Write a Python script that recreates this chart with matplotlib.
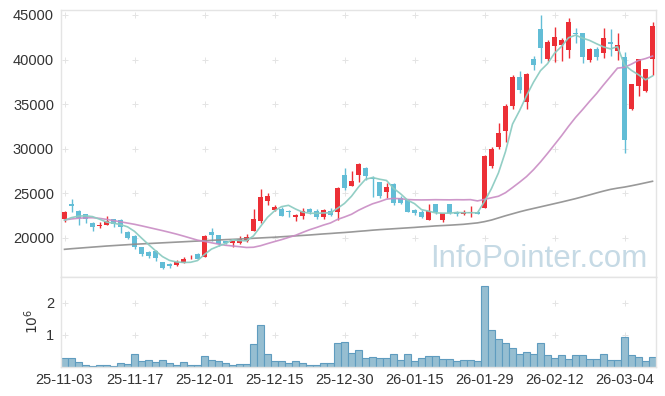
import matplotlib
matplotlib.use("Agg")
import matplotlib.pyplot as plt
import numpy as np
import pandas as pd

plt.rcParams['font.family'] = ['Liberation Sans', 'DejaVu Sans']

# x tick labels, one every 10 trading days
tick_labels = ["25-11-03", "25-11-17", "25-12-01", "25-12-15", "25-12-30",
               "26-01-15", "26-01-29", "26-02-12", "26-03-04"]

opens = [22150, 23800, 23000, 22650, 21690, 21320, 21460, 22100, 21990, 20640,
         20190, 18920, 18390, 18500, 17230, 17080, 16930, 17190, 17800, 18170,
         17860, 20680, 20300, 19580, 19370, 19400, 19660, 20800, 21840, 24100,
         23150, 23230, 23040, 22300, 22480, 23230, 22970, 22300, 23040, 22860,
         26980, 25850, 27090, 27850, 26700, 26230, 25110, 26000, 24430, 24240,
         23120, 22930, 21990, 23790, 21990, 23760, 22930, 22670, 22750, 22930,
         23380, 27990, 30180, 31940, 34750, 38060, 35200, 40010, 43390, 40090,
         41500, 41620, 41050, 43010, 42930, 39900, 41220, 40760, 41960, 40950,
         40310, 34460, 37080, 36520, 40010]
highs = [23040, 24300, 23120, 22700, 21800, 21750, 22400, 22150, 22050, 20770,
         20250, 18950, 18500, 18600, 17300, 17200, 17500, 17800, 18050, 18250,
         20300, 21130, 20350, 19650, 19600, 20150, 20450, 23230, 25450, 24960,
         23650, 23400, 23100, 22700, 23300, 23330, 23180, 23230, 23300, 25670,
         27800, 27450, 28410, 27950, 26870, 26300, 26120, 26100, 24700, 24350,
         23250, 23100, 23760, 23800, 22800, 23800, 23000, 23100, 23500, 23000,
         29280, 30140, 32880, 35010, 38210, 38680, 38450, 40390, 44960, 42150,
         43640, 42460, 44630, 43580, 42930, 41300, 41400, 43580, 43380, 42970,
         40880, 37300, 40010, 38950, 44160]
lows = [21800, 22900, 21430, 21600, 20800, 21040, 21450, 21170, 20500, 19820,
        18700, 17950, 17700, 17400, 16530, 16630, 16780, 17100, 17550, 17550,
        17800, 19650, 19100, 19300, 18950, 19300, 19550, 20790, 21700, 23620,
        22950, 22400, 22300, 21860, 22150, 22700, 22100, 22080, 22480, 22020,
        25400, 25800, 26300, 26500, 24620, 24470, 24470, 23700, 23780, 22880,
        22600, 22250, 21950, 22700, 21800, 22650, 22450, 22600, 22300, 22700,
        23300, 27800, 29920, 30710, 34500, 36260, 34400, 38780, 39560, 39800,
        39760, 39820, 40150, 41900, 39570, 39700, 39900, 40150, 40390, 39970,
        29500, 34300, 35960, 36400, 38300]
closes = [22900, 23500, 22180, 22070, 21170, 21460, 21880, 21580, 21240, 19930,
          18920, 18130, 17940, 17750, 16630, 16780, 17270, 17640, 17860, 17600,
          20190, 20300, 19290, 19370, 19580, 19850, 20110, 22110, 24620, 24730,
          23460, 22480, 22860, 22560, 23000, 22860, 22360, 23120, 22560, 25560,
          25630, 26380, 28300, 26900, 26550, 24690, 25670, 23900, 23870, 22920,
          22750, 22300, 23040, 22930, 22740, 22740, 22670, 22930, 22930, 22670,
          29120, 29950, 31750, 34830, 38090, 36630, 38350, 39370, 41330, 41960,
          42520, 42150, 44250, 42820, 40310, 41220, 40270, 42450, 41730, 41590,
          30920, 37200, 40010, 38880, 43760]
volumes = [270000, 270000, 150000, 50000, 20000, 60000, 60000, 30000, 110000, 80000,
           400000, 180000, 210000, 150000, 210000, 110000, 50000, 150000, 50000, 50000,
           330000, 210000, 180000, 110000, 50000, 80000, 80000, 710000, 1300000, 400000,
           180000, 180000, 110000, 180000, 110000, 50000, 50000, 110000, 110000, 750000,
           780000, 440000, 530000, 280000, 310000, 280000, 280000, 410000, 220000, 410000,
           190000, 280000, 340000, 340000, 250000, 250000, 190000, 220000, 220000, 190000,
           2530000, 1160000, 875000, 750000, 580000, 410000, 470000, 410000, 750000, 375000,
           280000, 375000, 250000, 375000, 375000, 250000, 250000, 410000, 220000, 220000,
           940000, 375000, 310000, 190000, 310000]

# moving-average values before a full window exists
ma5_head = [21950, 22250, 22420, 22450]
ma20_head = [21990, 22100, 22180, 22230, 22240, 22170, 22050, 21920, 21780, 21640,
             21500, 21330, 21150, 20970, 20790, 20600, 20400, 20180, 19950]
# long moving average (grey line)
ma_long = [18690, 18760, 18820, 18880, 18940, 19000, 19060, 19110, 19160, 19210,
           19260, 19300, 19340, 19380, 19420, 19460, 19500, 19540, 19580, 19620,
           19660, 19700, 19740, 19780, 19810, 19850, 19890, 19930, 19970, 20010,
           20050, 20100, 20150, 20200, 20250, 20300, 20360, 20420, 20470, 20530,
           20580, 20640, 20710, 20770, 20840, 20900, 20950, 21000, 21050, 21100,
           21150, 21210, 21260, 21320, 21360, 21400, 21450, 21500, 21580, 21660,
           21800, 21980, 22220, 22460, 22680, 22900, 23100, 23280, 23460, 23640,
           23820, 24000, 24190, 24380, 24590, 24800, 25020, 25230, 25420, 25560,
           25680, 25830, 25990, 26160, 26330]

close_s = pd.Series(closes, dtype=float)
ma5 = close_s.rolling(5).mean().to_numpy()
ma5[:len(ma5_head)] = ma5_head
ma20 = close_s.rolling(20).mean().to_numpy()
ma20[:len(ma20_head)] = ma20_head

UP = '#ec2f36'
DOWN = '#62bdd6'
GRID = '#e4e4e4'
SPINE = '#e4e4e4'

fig = plt.figure(figsize=(6.65, 3.96), dpi=100)
ax = fig.add_axes([61 / 665, 1 - 277.3 / 396, 595 / 665, 267.3 / 396])
axv = fig.add_axes([61 / 665, 1 - 367 / 396, 595 / 665, 89.7 / 396])

x = np.arange(len(closes))
o = np.array(opens)
c = np.array(closes)
colors = np.where(c >= o, UP, DOWN)
body_lo = np.minimum(o, c)
body_h = np.maximum(np.abs(c - o), 60)

ax.vlines(x, lows, highs, colors=colors, linewidth=1.0, zorder=2)
ax.bar(x, body_h, bottom=body_lo, width=0.66, color=colors, linewidth=0, zorder=3)

ax.plot(x, ma_long, color='#8e8e8e', lw=1.2, alpha=0.9, zorder=4)
ax.plot(x, ma20, color='#c98cc4', lw=1.2, alpha=0.9, zorder=4)
ax.plot(x, ma5, color='#8dccc2', lw=1.2, alpha=0.95, zorder=5)

ax.set_xlim(-0.5, len(closes) - 0.5)
ax.set_ylim(15550, 45560)
ticks_x = np.arange(0, len(closes), 10)[:len(tick_labels)]
yt = np.arange(20000, 45001, 5000)
ax.set_yticks(yt)
ax.set_yticklabels([str(v) for v in yt])
ax.set_xticks(ticks_x)
ax.tick_params(axis='x', labelbottom=False, length=0)
ax.tick_params(axis='y', length=0, pad=5, labelsize=10.5, labelcolor='#333333')
gx, gy = np.meshgrid(ticks_x, yt)
ax.plot(gx.ravel(), gy.ravel(), ls='none', marker='+', ms=4, mew=0.7,
        color=GRID, zorder=1)

ax.text(0.985, 0.04, 'InfoPointer.com', transform=ax.transAxes, ha='right',
        va='baseline', fontsize=22.5, color='#c6dae5', zorder=0)

# volume panel
axv.bar(x, np.array(volumes) / 1e6, width=1.0, color='#96bed1',
        edgecolor='#5f9cbf', linewidth=0.8, zorder=2)
axv.set_xlim(-0.5, len(closes) - 0.5)
axv.set_ylim(0, 2.8)
axv.set_yticks([1, 2])
axv.set_yticklabels(['1', '2'])
axv.set_xticks(ticks_x)
axv.set_xticklabels(tick_labels)
axv.tick_params(axis='y', length=0, pad=5, labelsize=10.5, labelcolor='#333333')
axv.tick_params(axis='x', length=0, pad=4, labelsize=10.5, labelcolor='#333333')
gx, gy = np.meshgrid(ticks_x, [1, 2])
axv.plot(gx.ravel(), gy.ravel(), ls='none', marker='+', ms=4, mew=0.7,
         color=GRID, zorder=1)
fig.text(32 / 665, 1 - 321 / 396, r'$10^6$', rotation=90, ha='center',
         va='center', fontsize=10, color='#333333')

for a in (ax, axv):
    for s in a.spines.values():
        s.set_color(SPINE)
        s.set_linewidth(1.0)

fig.savefig('out.png', dpi=100)
